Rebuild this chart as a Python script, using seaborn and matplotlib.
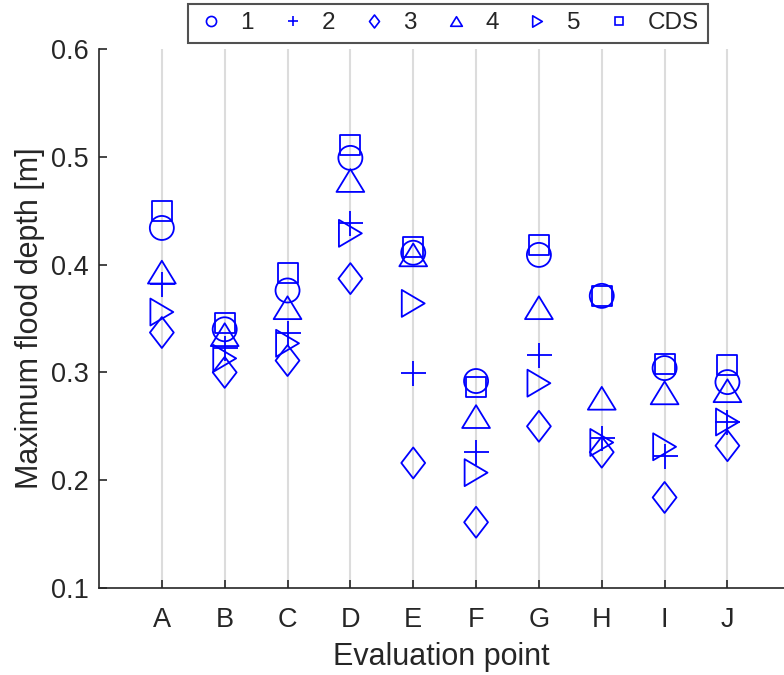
import numpy as np
import matplotlib
matplotlib.use('Agg')
import matplotlib.pyplot as plt
from matplotlib.path import Path
from matplotlib.lines import Line2D
import seaborn as sns

# 평가 지점과 각 케이스별 최대 침수심
points = ['A', 'B', 'C', 'D', 'E', 'F', 'G', 'H', 'I', 'J']
case1 = [0.434, 0.340, 0.376, 0.499, 0.411, 0.292, 0.409, 0.371, 0.304, 0.291]
case2 = [0.382, 0.323, 0.337, 0.439, 0.299, 0.226, 0.316, 0.239, 0.222, 0.254]
case3 = [0.337, 0.300, 0.311, 0.387, 0.216, 0.161, 0.250, 0.226, 0.184, 0.232]
case4 = [0.393, 0.335, 0.360, 0.478, 0.409, 0.259, 0.360, 0.276, 0.281, 0.283]
case5 = [0.356, 0.313, 0.327, 0.429, 0.364, 0.207, 0.290, 0.235, 0.231, 0.254]
cds = [0.450, 0.346, 0.392, 0.511, 0.416, 0.286, 0.418, 0.371, 0.308, 0.307]
labels = ['1', '2', '3', '4', '5', 'CDS']

sns.set_style('ticks')
plt.rcParams['font.family'] = ['Liberation Sans', 'DejaVu Sans']

blue = '#0000ff'
diamond = Path([(0, 1), (0.77, 0), (0, -1), (-0.77, 0), (0, 1)], closed=True)
tri_up = Path([(-1, -0.82), (1, -0.82), (0, 0.82), (-1, -0.82)], closed=True)
tri_right = Path([(-0.85, -1), (0.85, 0), (-0.85, 1), (-0.85, -1)], closed=True)

# (데이터, 마커, 마커 크기 pt)
series = [(case1, 'o', 17.3), (case2, '+', 18), (case3, diamond, 22.3),
          (case4, tri_up, 20), (case5, tri_right, 19.4), (cds, 's', 14.4)]

fig = plt.figure(figsize=(7.84, 6.75), dpi=100)
ax = fig.add_axes([99 / 784, 87 / 675, (784 - 99) / 784, 539 / 675])

x = np.arange(1, len(points) + 1)
for vals, mk, ms in series:
    if mk == '+':
        sns.scatterplot(x=x, y=vals, marker=mk, s=ms ** 2, color=blue,
                        linewidth=1.3, ax=ax, zorder=3)
    else:
        sns.scatterplot(x=x, y=vals, marker=mk, s=ms ** 2, facecolor='none',
                        edgecolor=blue, linewidth=1.3, ax=ax, zorder=3)

ax.set_xlim(0, 10.9)
ax.set_ylim(0.1, 0.6)
ax.set_xticks(x)
ax.set_xticklabels(points)
ax.set_yticks([0.1, 0.2, 0.3, 0.4, 0.5, 0.6])
ax.set_yticklabels(['0.1', '0.2', '0.3', '0.4', '0.5', '0.6'])
ax.xaxis.grid(True, color='#dcdcdc', linewidth=1.5)
ax.set_axisbelow(True)
ax.tick_params(direction='in', length=5.5, width=1.2, labelsize=19.5,
               colors='#262626')
ax.tick_params(axis='x', pad=14)
ax.tick_params(axis='y', pad=7.5)
for side in ['top', 'right']:
    ax.spines[side].set_visible(False)
for side in ['left', 'bottom']:
    ax.spines[side].set_linewidth(1.2)
    ax.spines[side].set_color('#262626')
ax.set_xlabel('Evaluation point', fontsize=22, color='#262626', labelpad=6)
ax.set_ylabel('Maximum flood depth [m]', fontsize=22, color='#262626',
              labelpad=4)

# 범례: 작은 마커, 가로 한 줄
handles = []
for (vals, mk, ms), lab in zip(series, labels):
    handles.append(Line2D([], [], linestyle='none', marker=mk,
                          markersize=ms * 0.42, markerfacecolor='none',
                          markeredgecolor=blue, color=blue,
                          markeredgewidth=1.2, label=lab))
leg = fig.legend(handles=handles, loc='lower center', ncol=6,
                 bbox_to_anchor=(448 / 784, (675 - 43) / 675),
                 borderaxespad=0, fontsize=17.5, frameon=True, fancybox=False,
                 handlelength=1.2, handletextpad=0.6, columnspacing=1.0,
                 borderpad=0.35)
leg.get_frame().set_edgecolor('#262626')
leg.get_frame().set_linewidth(1.5)

plt.savefig('out.png', dpi=100)
